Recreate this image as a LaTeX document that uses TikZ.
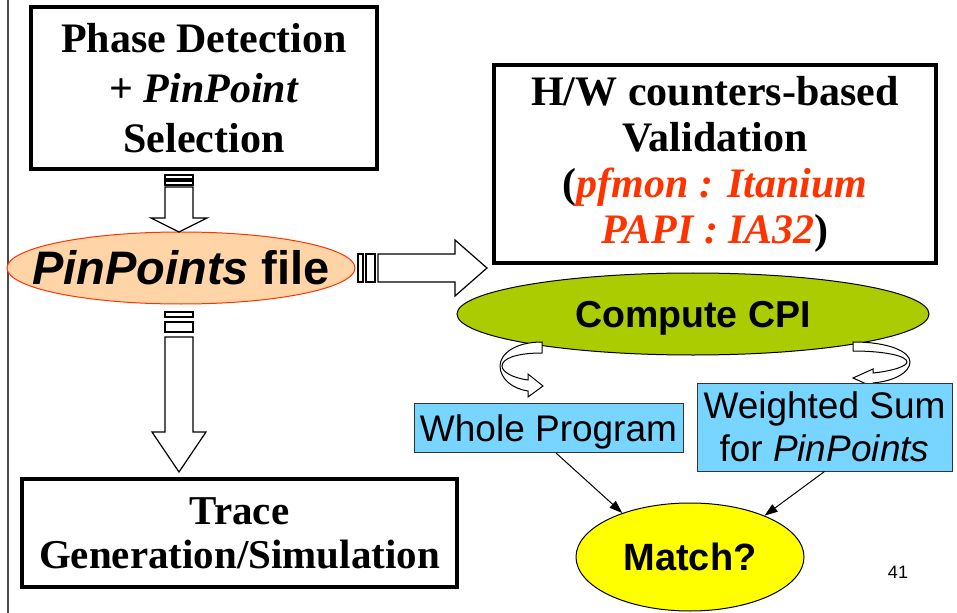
\documentclass[tikz,border=0pt]{standalone}
\usepackage{fontspec}
\setmainfont{Liberation Serif}
\setsansfont{Liberation Sans}
\usetikzlibrary{shapes.geometric,arrows.meta}
\definecolor{peach}{HTML}{FFD5A8}
\definecolor{pred}{HTML}{FF3300}
\definecolor{cgreen}{HTML}{AACC00}
\definecolor{cblue}{HTML}{77D5FF}
\definecolor{cyellow}{HTML}{FFFF00}
\begin{document}
\begin{tikzpicture}[x=1bp,y=-1bp,
  serifbox/.style={draw=black, line width=4bp, fill=white, align=center, inner sep=0pt,
    font=\fontsize{42bp}{50bp}\selectfont\bfseries},
  bluebox/.style={draw=black!80, line width=1bp, fill=cblue, align=center, inner sep=0pt,
    font=\sffamily\fontsize{37bp}{43bp}\selectfont},
  blockarrow/.style={draw=black, line width=1.2bp, fill=white, line join=miter},
  thinarrow/.style={draw=black, line width=1bp, -{Triangle[length=13bp,width=9bp]}},
  oval/.style={ellipse, inner sep=0pt}
]
\useasboundingbox (0,0) rectangle (957,613);
% slide border line
\draw[black!70, line width=1.2bp] (8,0) -- (8,613);

% boxes
\node[serifbox, minimum width=346bp, minimum height=162bp] (phase) at (204,88)
  {Phase Detection\\+ \textit{PinPoint}\\Selection};
\node[serifbox, line width=3.5bp, minimum width=442bp, minimum height=198bp,
  font=\fontsize{42bp}{46bp}\selectfont\bfseries] (hw) at (715,164)
  {H/W counters-based\\Validation\\(\textcolor{pred}{\textit{pfmon : Itanium}}\\\textcolor{pred}{\textit{PAPI : IA32}})};
\node[serifbox, minimum width=435bp, minimum height=108bp, font=\fontsize{41bp}{44bp}\selectfont\bfseries] (trace) at (239.5,533)
  {Trace\\Generation/Simulation};

% ellipses
\node[oval, draw=pred, line width=1bp, fill=peach, minimum width=348bp, minimum height=72bp,
  label={[font=\sffamily\bfseries\fontsize{47bp}{50bp}\selectfont]center:\textit{PinPoints} file}] (pp) at (181,268) {};
\node[oval, draw=black, line width=1bp, fill=cgreen, minimum width=472bp, minimum height=82bp,
  text depth=0pt, font=\sffamily\bfseries\fontsize{37.5bp}{40bp}\selectfont] (cpi) at (693,314) {Compute CPI};

% block arrows
\draw[blockarrow] (165,175) rectangle (193,179);
\draw[blockarrow] (165,181) rectangle (193,185);
\draw[blockarrow] (165,187) -- (193,187) -- (193,218) -- (207,218) -- (179,232) -- (151,218) -- (165,218) -- cycle;

\draw[blockarrow] (165,312) rectangle (193,317);
\draw[blockarrow] (165,322) rectangle (193,332);
\draw[blockarrow] (165,337) -- (193,337) -- (193,432) -- (206,432) -- (179,472) -- (152,432) -- (165,432) -- cycle;

\draw[blockarrow] (358,254) rectangle (363,282);
\draw[blockarrow] (366,254) rectangle (375,282);
\draw[blockarrow] (378,254) -- (455,254) -- (455,240) -- (487,268) -- (455,296) -- (455,282) -- (378,282) -- cycle;

% curved arrows
\draw[blockarrow, line width=1bp] (542,342) .. controls (515,342) and (500,354) .. (500,366)
  .. controls (500,379) and (513,389) .. (528,391) -- (528,397) -- (543,386) -- (528,374) -- (528,380)
  .. controls (513,378) and (502,372) .. (502,366) .. controls (502,359) and (515,353) .. (542,353) -- cycle;
\draw[blockarrow, line width=1bp] (853,342) .. controls (890,342) and (910,352) .. (910,362)
  .. controls (910,372) and (895,381) .. (873,383) -- (873,387) -- (853,378) -- (873,369) -- (873,373)
  .. controls (893,371) and (907,366) .. (907,362) .. controls (907,356) and (885,351) .. (853,351) -- cycle;

% blue boxes
\node[bluebox, minimum width=269bp, minimum height=49bp, text depth=0pt] (whole) at (548.5,428) {Whole Program};
\node[bluebox, minimum width=255bp, minimum height=88bp] (wsum) at (824.5,427) {Weighted Sum\\for \textit{PinPoints}};

% match
\node[oval, draw=black, line width=1bp, fill=cyellow, minimum width=228bp, minimum height=108bp,
  font=\sffamily\bfseries\fontsize{38bp}{40bp}\selectfont] (match) at (690,557) {Match?};

\draw[thinarrow] ([xshift=7.5bp]whole.south) -- (match.147);
\draw[thinarrow] (wsum.south) -- (match.29);

\node[font=\sffamily\fontsize{18bp}{20bp}\selectfont] (pg) at (898,572) {41};
\end{tikzpicture}
\end{document}
